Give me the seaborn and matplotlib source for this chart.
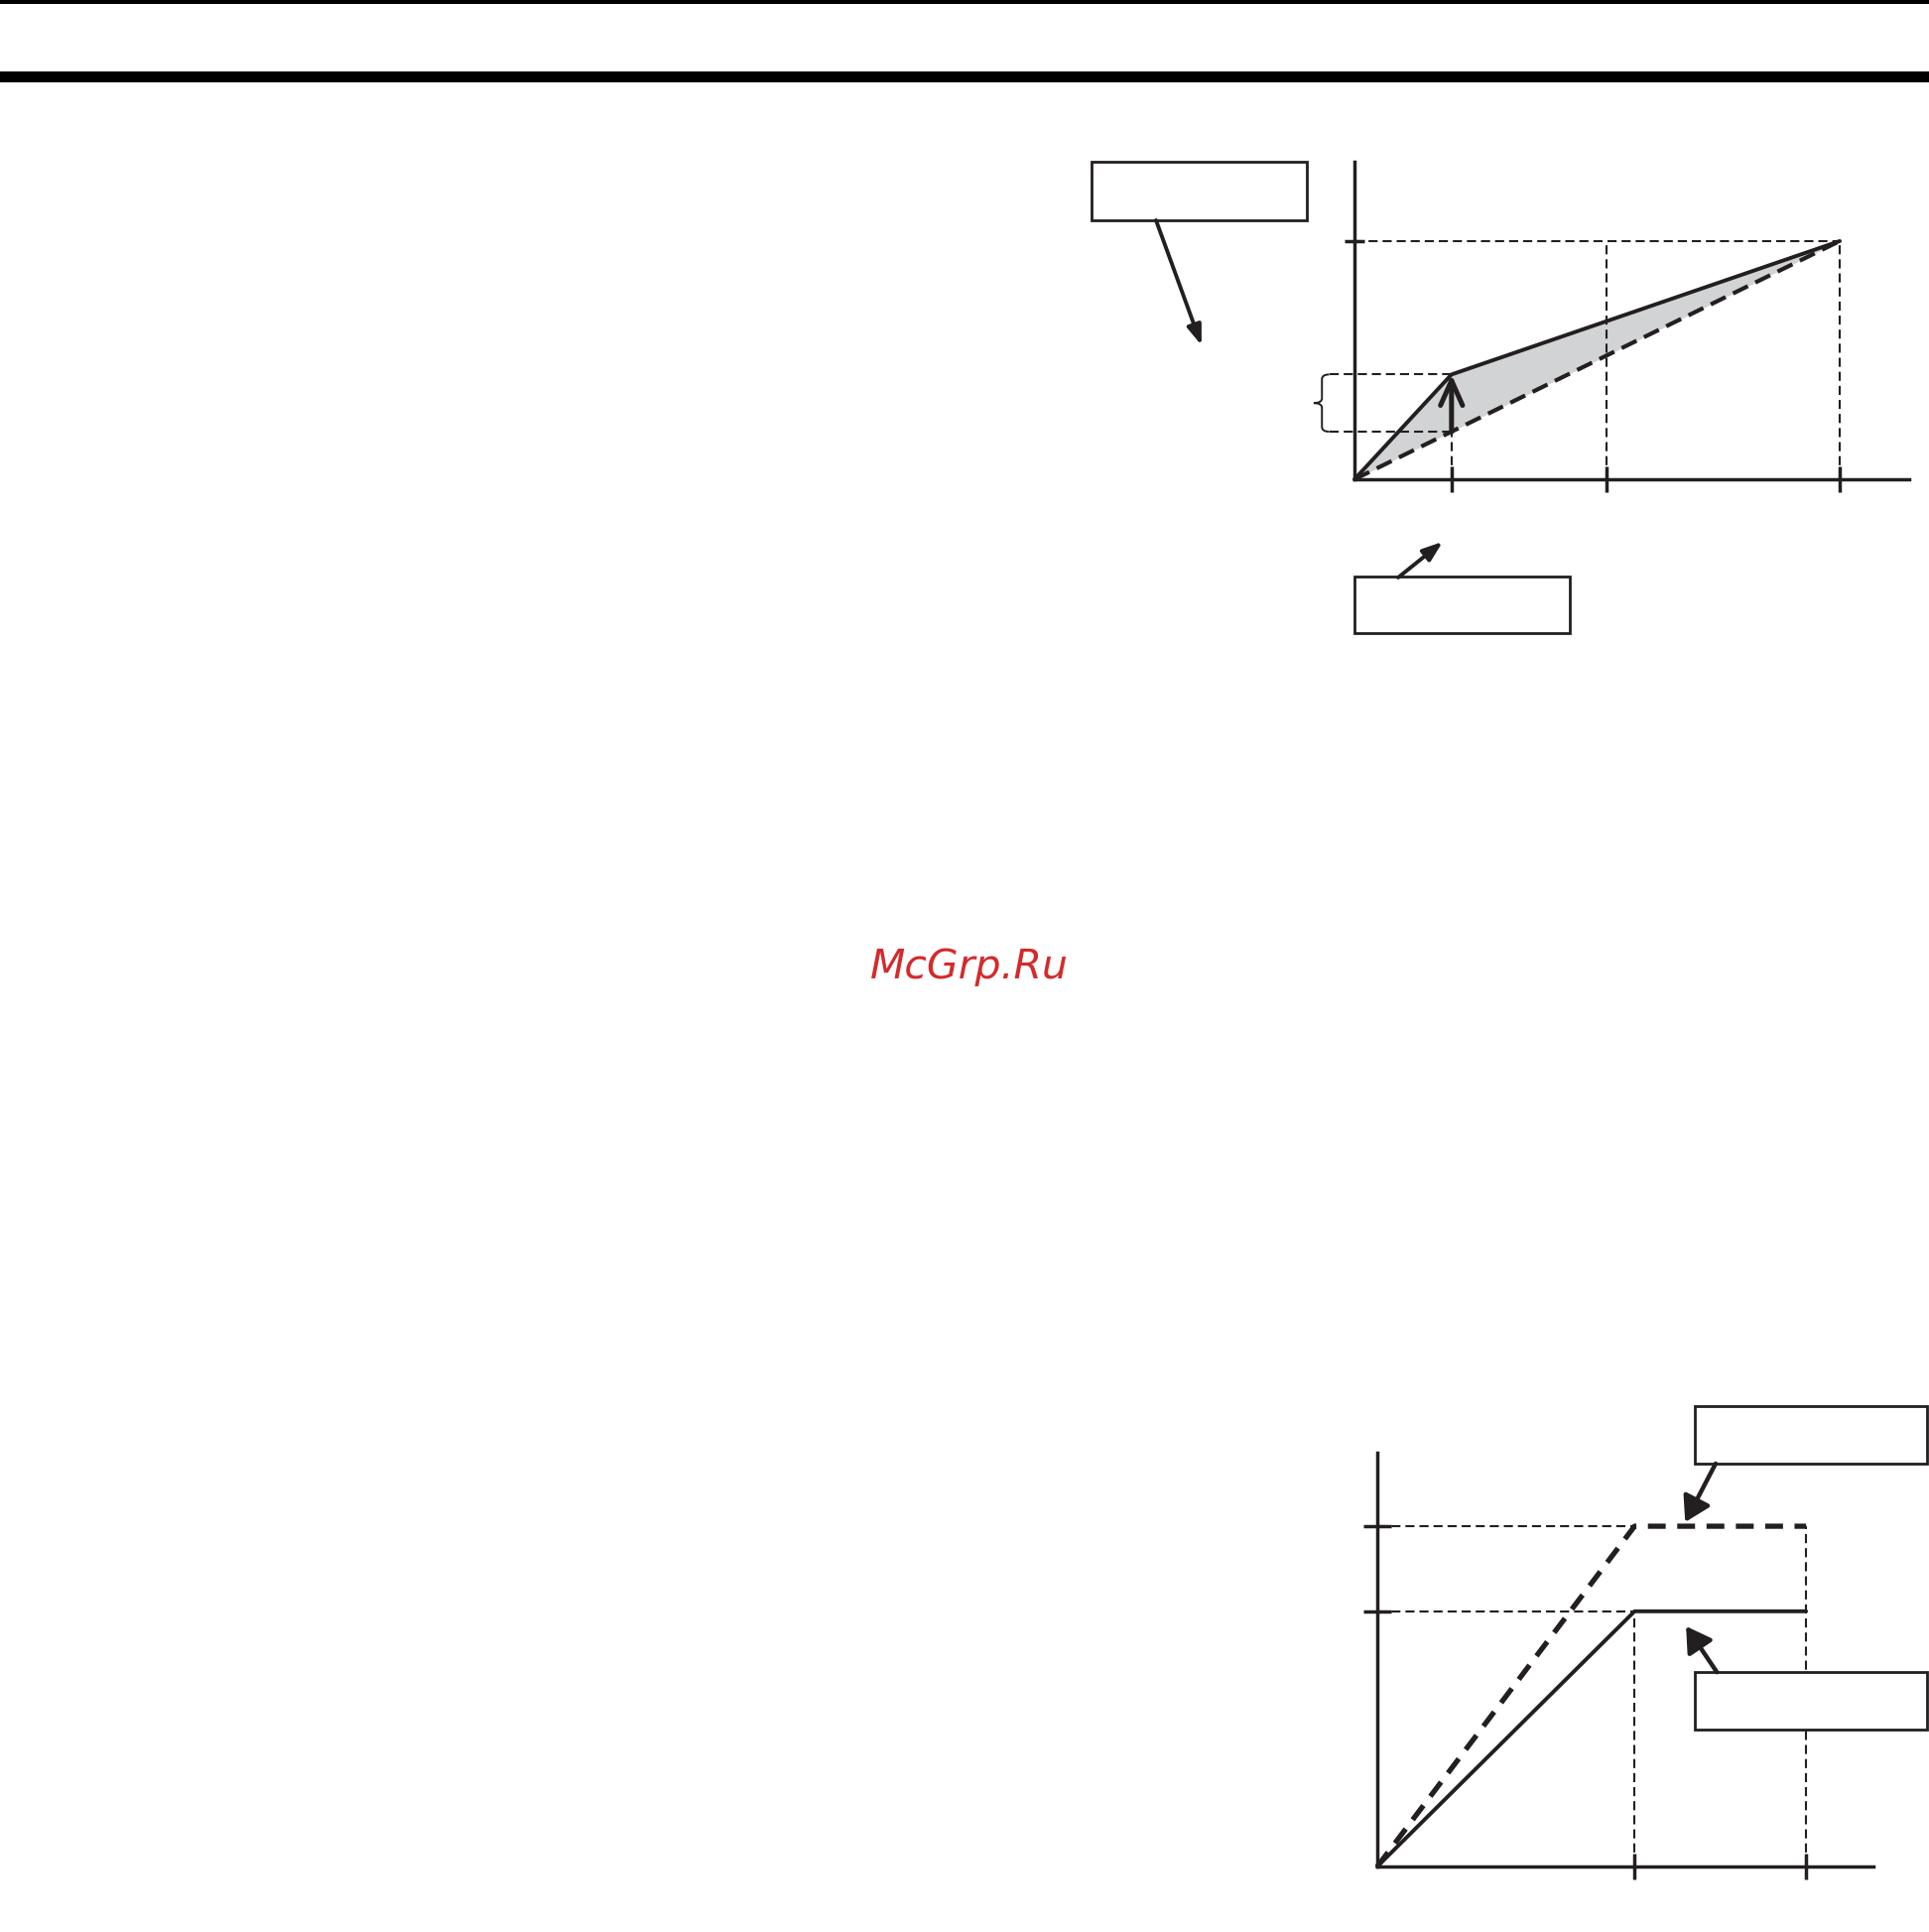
import matplotlib
matplotlib.use('Agg')
import matplotlib.pyplot as plt
import seaborn as sns
from matplotlib.patches import Rectangle, PathPatch
from matplotlib.lines import Line2D
from matplotlib.path import Path

# ---------------- data ----------------
top_x = [0, 2, 10]
top_solid = [0, 4.4, 10]
top_dashed = [0, 2, 10]
top_xticks = [2, 5.2, 10]
top_yticks = [10]

bot_x = [0, 6, 10]
bot_solid = [0, 7.5, 7.5]
bot_dashed = [0, 10, 10]
bot_xticks = [6, 10]
bot_yticks = [7.5, 10]

watermark = "McGrp.Ru"

# ---------------- style ----------------
INK = '#231f20'
GRAY = '#d1d3d4'
RED = '#d42a2c'
W, H = 1944, 1947

sns.set_style('white')
plt.rcParams['font.family'] = ['DejaVu Sans']

fig = plt.figure(figsize=(W / 100, H / 100), dpi=100)


def px_rect(x0, y0, x1, y1):
    return [x0 / W, 1 - y1 / H, (x1 - x0) / W, (y1 - y0) / H]


ax1 = fig.add_axes(px_rect(1365, 163, 1924, 483))
ax2 = fig.add_axes(px_rect(1388, 1464, 1888, 1881))


def style(ax, xlim, ylim, xt, yt, xlen, ylen):
    ax.set_xlim(*xlim)
    ax.set_ylim(*ylim)
    ax.patch.set_alpha(0)
    for s in ['top', 'right']:
        ax.spines[s].set_visible(False)
    for s in ['left', 'bottom']:
        ax.spines[s].set_linewidth(2.5)
        ax.spines[s].set_color(INK)
        ax.spines[s].set_zorder(5)
    ax.set_xticks(xt)
    ax.set_yticks(yt)
    ax.set_xticklabels([])
    ax.set_yticklabels([])
    ax.tick_params(axis='x', bottom=True, direction='inout', length=xlen,
                   width=2.5, color=INK)
    ax.tick_params(axis='y', left=True, direction='inout', length=ylen,
                   width=2.5, color=INK)
    ax.set_xlabel('')
    ax.set_ylabel('')


thin = dict(color=INK, lw=1.5, linestyle=(0, (4.4, 2.4)), zorder=2, clip_on=False)

# ---------------- top chart ----------------
ax1.fill_between(top_x, top_dashed, top_solid, color=GRAY, lw=0, zorder=1)

# guides
ax1.plot([0, top_xticks[2]], [top_yticks[0]] * 2, **thin)
ax1.plot([top_xticks[1]] * 2, [0, top_yticks[0]], **thin)
ax1.plot([top_xticks[2]] * 2, [0, top_yticks[0]], **thin)
ax1.plot([top_x[1]] * 2, [0, top_dashed[1]], **thin)
ax1.plot([-0.52, top_x[1]], [top_solid[1]] * 2, **thin)
ax1.plot([-0.52, top_x[1]], [top_dashed[1]] * 2, **thin)

# brace
ym = (top_solid[1] + top_dashed[1]) / 2
yt_, yb_ = top_solid[1], top_dashed[1]
bx, nx, sx = -0.67, -0.84, -0.52
verts = [(sx, yt_), (bx, yt_), (bx, yt_ - 0.2),
         (bx, ym + 0.2), (bx, ym), (nx, ym),
         (bx, ym), (bx, ym - 0.2),
         (bx, yb_ + 0.2), (bx, yb_), (sx, yb_)]
codes = [Path.MOVETO, Path.CURVE3, Path.CURVE3,
         Path.LINETO, Path.CURVE3, Path.CURVE3,
         Path.CURVE3, Path.CURVE3,
         Path.LINETO, Path.CURVE3, Path.CURVE3]
ax1.add_patch(PathPatch(Path(verts, codes), fc='none', ec=INK, lw=1.4,
                        clip_on=False, zorder=2))

sns.lineplot(x=top_x, y=top_solid, ax=ax1, color=INK, linewidth=2.8,
             sort=False, zorder=4, clip_on=False)
sns.lineplot(x=top_x, y=top_dashed, ax=ax1, color=INK, linewidth=3.0,
             linestyle=(0, (4, 2.0)), sort=False, zorder=4, clip_on=False)

# vertical arrow
ax1.annotate('', xy=(top_x[1], top_solid[1]), xytext=(top_x[1], top_dashed[1]),
             arrowprops=dict(arrowstyle='->,head_length=0.9,head_width=0.4',
                             mutation_scale=20, lw=3.6, color=INK,
                             shrinkA=0, shrinkB=0), zorder=5)

# boxes and callout arrows (top chart)
small_arrow = dict(arrowstyle='-|>,head_length=1.0,head_width=0.36',
                   mutation_scale=12, lw=2.8, color=INK, shrinkA=0, shrinkB=0)
ax1.add_patch(Rectangle((-5.42, 10.875), 4.44, 2.455, fc='white', ec=INK,
                        lw=2.0, clip_on=False, zorder=6))
ax1.annotate('', xy=(-3.15, 5.62), xytext=(-4.09, 10.875),
             arrowprops=small_arrow, annotation_clip=False, zorder=6)
ax1.add_patch(Rectangle((0.0, -6.46), 4.44, 2.38, fc='white', ec=INK,
                        lw=2.0, clip_on=False, zorder=6))
ax1.annotate('', xy=(1.82, -2.62), xytext=(0.9, -4.125),
             arrowprops=small_arrow, annotation_clip=False, zorder=6)

style(ax1, (0, 11.43), (0, 13.33), top_xticks, top_yticks, 18.7, 14.4)

# ---------------- bottom chart ----------------
ax2.plot([0, bot_x[1]], [bot_yticks[1]] * 2, **thin)
ax2.plot([0, bot_x[1]], [bot_yticks[0]] * 2, **thin)
ax2.plot([bot_xticks[0]] * 2, [0, bot_solid[1]], **thin)
ax2.plot([bot_xticks[1]] * 2, [0, bot_dashed[2]], **thin)

sns.lineplot(x=bot_x, y=bot_solid, ax=ax2, color=INK, linewidth=2.8,
             sort=False, zorder=4, clip_on=False)
sns.lineplot(x=bot_x, y=bot_dashed, ax=ax2, color=INK, linewidth=3.8,
             linestyle=(0, (3.4, 2.2)), sort=False, zorder=4, clip_on=False)

big_arrow = dict(arrowstyle='-|>,head_length=0.75,head_width=0.45',
                 mutation_scale=20, lw=3.2, color=INK, shrinkA=0, shrinkB=0)
ax2.add_patch(Rectangle((7.41, 11.84), 5.41, 1.69, fc='white', ec=INK,
                        lw=2.0, clip_on=False, zorder=6))
ax2.annotate('', xy=(7.18, 10.12), xytext=(7.89, 11.84),
             arrowprops=big_arrow, annotation_clip=False, zorder=6)
ax2.add_patch(Rectangle((7.41, 4.02), 5.41, 1.69, fc='white', ec=INK,
                        lw=2.0, clip_on=False, zorder=6))
ax2.annotate('', xy=(7.2, 7.06), xytext=(7.92, 5.71),
             arrowprops=big_arrow, annotation_clip=False, zorder=6)

style(ax2, (0, 11.57), (0, 12.16), bot_xticks, bot_yticks, 18.7, 20)

# ---------------- header rules & watermark ----------------
fig.add_artist(Line2D([0, 1], [1 - 2 / H] * 2, transform=fig.transFigure,
                      lw=2.9, color='black'))
fig.add_artist(Line2D([0, 1], [1 - 76.5 / H] * 2, transform=fig.transFigure,
                      lw=7.9, color='black'))
fig.text(977 / W, 1 - 986 / H, watermark, color=RED, fontsize=29.5,
         fontstyle='italic', ha='center', va='baseline')

fig.savefig('out.png', dpi=100, facecolor='white')
